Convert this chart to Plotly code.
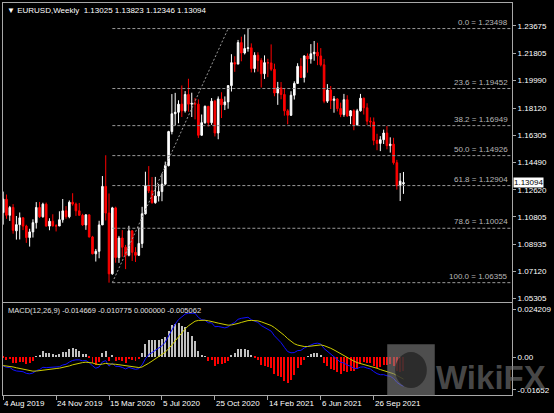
import pandas as pd
import plotly.graph_objects as go
from plotly.subplots import make_subplots

first_week = '2019-08-04'

opens = [1.1108, 1.1198, 1.1090, 1.1143, 1.0985, 1.1027, 1.1073, 1.1017, 1.0940, 1.0978,
         1.1040, 1.1143, 1.1080, 1.1165, 1.1017, 1.1050, 1.1019, 1.1018, 1.1060, 1.1120,
         1.1080, 1.1178, 1.1166, 1.1120, 1.1090, 1.1025, 1.1093, 1.0944, 1.0830, 1.0847,
         1.1025, 1.1285, 1.1105, 1.0695, 1.1140, 1.0805, 1.0937, 1.0875, 1.0820, 1.0985,
         1.0840, 1.0820, 1.0900, 1.1100, 1.1290, 1.1255, 1.1175, 1.1220, 1.1250, 1.1300,
         1.1425, 1.1655, 1.1775, 1.1785, 1.1840, 1.1795, 1.1905, 1.1840, 1.1845, 1.1840,
         1.1630, 1.1715, 1.1825, 1.1715, 1.1860, 1.1645, 1.1875, 1.1835, 1.1855, 1.1965,
         1.2120, 1.2110, 1.2255, 1.2185, 1.2215, 1.2220, 1.2080, 1.2170, 1.2135, 1.2045,
         1.2120, 1.2118, 1.2075, 1.1915, 1.1950, 1.1905, 1.1795, 1.1765, 1.1900, 1.1980,
         1.2095, 1.2020, 1.2165, 1.2145, 1.2180, 1.2190, 1.2165, 1.2105, 1.1860, 1.1935,
         1.1865, 1.1875, 1.1810, 1.1770, 1.1870, 1.1760, 1.1795, 1.1700, 1.1795, 1.1880,
         1.1815, 1.1725, 1.1720, 1.1595, 1.1575, 1.1600, 1.1645, 1.1560, 1.1570, 1.1445,
         1.1290, 1.13025]
highs = [1.1250, 1.1230, 1.1153, 1.1165, 1.1085, 1.1109, 1.1076, 1.1026, 1.0999, 1.1063,
         1.1179, 1.1180, 1.1175, 1.1176, 1.1070, 1.1097, 1.1030, 1.1117, 1.1200, 1.1152,
         1.1190, 1.1239, 1.1176, 1.1173, 1.1100, 1.1096, 1.1095, 1.0951, 1.0863, 1.1053,
         1.1355, 1.1495, 1.1237, 1.1147, 1.1148, 1.0951, 1.0990, 1.0890, 1.1019, 1.0990,
         1.0875, 1.1008, 1.1147, 1.1384, 1.1422, 1.1348, 1.1349, 1.1302, 1.1372, 1.1452,
         1.1660, 1.1908, 1.1916, 1.1866, 1.1966, 1.1928, 1.2011, 1.1917, 1.1882, 1.1872,
         1.1770, 1.1831, 1.1828, 1.1881, 1.1869, 1.1892, 1.1920, 1.1892, 1.1964, 1.2177,
         1.2163, 1.2273, 1.2295, 1.2310, 1.23498, 1.2250, 1.2190, 1.2190, 1.2150, 1.2169,
         1.2146, 1.2243, 1.2113, 1.1990, 1.1989, 1.1945, 1.1806, 1.1927, 1.1994, 1.2116,
         1.2150, 1.2170, 1.2182, 1.2245, 1.2266, 1.2254, 1.2218, 1.2145, 1.1975, 1.1962,
         1.1895, 1.1880, 1.1850, 1.1909, 1.1900, 1.1800, 1.1805, 1.1808, 1.1909, 1.1884,
         1.1846, 1.1751, 1.1750, 1.1640, 1.1624, 1.1668, 1.1692, 1.1616, 1.1613, 1.1464,
         1.1375, 1.13823]
lows = [1.1027, 1.1066, 1.1052, 1.0966, 1.0926, 1.0927, 1.0990, 1.0904, 1.0879, 1.0940,
        1.1000, 1.1072, 1.1074, 1.1015, 1.0989, 1.1014, 1.0981, 1.1017, 1.1040, 1.1066,
        1.1070, 1.1155, 1.1086, 1.1087, 1.1019, 1.0992, 1.0940, 1.0827, 1.0778, 1.0800,
        1.1025, 1.1055, 1.06355, 1.0689, 1.0770, 1.0769, 1.0810, 1.0727, 1.0813, 1.0782,
        1.0775, 1.0815, 1.0870, 1.1095, 1.1240, 1.1168, 1.1168, 1.1183, 1.1185, 1.1297,
        1.1420, 1.1636, 1.1696, 1.1711, 1.1753, 1.1783, 1.1789, 1.1753, 1.1737, 1.1612,
        1.1627, 1.1707, 1.1689, 1.1700, 1.1622, 1.1603, 1.1746, 1.1800, 1.1809, 1.1925,
        1.2058, 1.2110, 1.2129, 1.2175, 1.2194, 1.2054, 1.2054, 1.2059, 1.1952, 1.2010,
        1.2022, 1.2063, 1.1893, 1.1835, 1.1873, 1.1762, 1.1704, 1.1760, 1.1871, 1.1977,
        1.2018, 1.1986, 1.2052, 1.2113, 1.2133, 1.2103, 1.2094, 1.1846, 1.1848, 1.1807,
        1.1782, 1.1791, 1.1752, 1.1755, 1.1755, 1.1705, 1.1664, 1.1695, 1.1790, 1.1770,
        1.1700, 1.1684, 1.1563, 1.1529, 1.1523, 1.1571, 1.1535, 1.1513, 1.1432, 1.1263,
        1.1186, 1.12346]
closes = [1.1199, 1.1090, 1.1143, 1.0989, 1.1027, 1.1073, 1.1017, 1.0940, 1.0978, 1.1040,
          1.1143, 1.1080, 1.1165, 1.1017, 1.1050, 1.1019, 1.1018, 1.1060, 1.1120, 1.1080,
          1.1178, 1.1166, 1.1120, 1.1090, 1.1025, 1.1093, 1.0944, 1.0830, 1.0847, 1.1025,
          1.1285, 1.1105, 1.0695, 1.1140, 1.0805, 1.0937, 1.0875, 1.0820, 1.0985, 1.0840,
          1.0820, 1.0900, 1.1100, 1.1290, 1.1255, 1.1175, 1.1220, 1.1250, 1.1300, 1.1425,
          1.1655, 1.1775, 1.1785, 1.1840, 1.1795, 1.1905, 1.1840, 1.1845, 1.1840, 1.1630,
          1.1715, 1.1825, 1.1715, 1.1860, 1.1645, 1.1875, 1.1835, 1.1855, 1.1965, 1.2120,
          1.2110, 1.2255, 1.2185, 1.2215, 1.2220, 1.2080, 1.2170, 1.2135, 1.2045, 1.2120,
          1.2118, 1.2075, 1.1915, 1.1950, 1.1905, 1.1795, 1.1765, 1.1900, 1.1980, 1.2095,
          1.2020, 1.2165, 1.2145, 1.2180, 1.2190, 1.2165, 1.2105, 1.1860, 1.1935, 1.1865,
          1.1875, 1.1810, 1.1770, 1.1870, 1.1760, 1.1795, 1.1700, 1.1795, 1.1880, 1.1815,
          1.1725, 1.1720, 1.1595, 1.1575, 1.1600, 1.1645, 1.1560, 1.1570, 1.1445, 1.1290,
          1.1320, 1.13094]

# weekly closes before the first visible bar (Jul 2018 - Jul 2019), only to warm up the MACD
warmup_closes = [1.1745, 1.1685, 1.1720, 1.1655, 1.1565, 1.1410, 1.1440, 1.1620, 1.1605, 1.1550,
                 1.1625, 1.1745, 1.1605, 1.1525, 1.1560, 1.1510, 1.1400, 1.1385, 1.1335, 1.1415,
                 1.1335, 1.1315, 1.1385, 1.1305, 1.1370, 1.1440, 1.1395, 1.1470, 1.1365, 1.1410,
                 1.1455, 1.1325, 1.1295, 1.1335, 1.1365, 1.1235, 1.1325, 1.1300, 1.1220, 1.1215,
                 1.1295, 1.1245, 1.1150, 1.1200, 1.1235, 1.1160, 1.1205, 1.1170, 1.1335, 1.1210,
                 1.1370, 1.1370, 1.1225, 1.1270, 1.1220, 1.1125, 1.1108]

fib_names = ['0.0', '23.6', '38.2', '50.0', '61.8', '78.6', '100.0']
fib_levels = [1.23498, 1.19452, 1.16949, 1.14926, 1.12904, 1.10024, 1.06355]
fib_low_date = '2020-03-22'
fib_high_date = '2020-11-22'

price_ticks = [1.23675, 1.21805, 1.19990, 1.18120, 1.16305, 1.14490,
               1.12620, 1.10805, 1.08935, 1.07120, 1.05305]
macd_ticks = [0.024209, 0.0, -0.01652]
macd_tick_text = ['0.024209', '0.00', '-0.01652']
date_ticks = ['2019-08-04', '2019-11-24', '2020-03-15', '2020-07-05',
              '2020-10-25', '2021-02-14', '2021-06-06', '2021-09-26']
date_text = ['4 Aug 2019', '24 Nov 2019', '15 Mar 2020', '5 Jul 2020',
             '25 Oct 2020', '14 Feb 2021', '6 Jun 2021', '26 Sep 2021']

header = '▼ EURUSD,Weekly  1.13025 1.13823 1.12346 1.13094'
macd_header = 'MACD(12,26,9) -0.014669 -0.010775 0.000000 -0.005062'
last_price = 1.13094

FONT = 'Liberation Sans'
BORDER = '#a8a8a8'

weeks = pd.date_range(first_week, periods=len(closes), freq='7D')
week = pd.Timedelta(weeks=1)
x_start = pd.Timestamp(first_week) - 0.05 * week
x_end = pd.Timestamp(first_week) + 153.8 * week

s = pd.Series(warmup_closes + closes)
macd_all = s.ewm(span=12, adjust=False).mean() - s.ewm(span=26, adjust=False).mean()
signal_all = macd_all.ewm(span=9, adjust=False).mean()
macd = macd_all.values[len(warmup_closes):]
signal = signal_all.values[len(warmup_closes):]
# the terminal's histogram is drawn as twice the gap between the two lines
hist = 2 * (macd - signal)

fig = make_subplots(rows=2, cols=1, shared_xaxes=True, vertical_spacing=0)

fig.add_trace(go.Candlestick(
    x=weeks, open=opens, high=highs, low=lows, close=closes,
    increasing=dict(line=dict(color='#ffffff', width=1), fillcolor='#ffffff'),
    decreasing=dict(line=dict(color='#ff0000', width=1), fillcolor='#ff0000'),
    whiskerwidth=0, showlegend=False,
), row=1, col=1)

fig.add_trace(go.Bar(
    x=weeks, y=hist,
    marker_color=['#c0c0c0' if v >= 0 else '#ff0000' for v in hist],
    marker_line_width=0,
    width=0.3 * week.total_seconds() * 1000,
    showlegend=False,
), row=2, col=1)
fig.add_trace(go.Scatter(x=weeks, y=macd, mode='lines',
                         line=dict(color='#1010ff', width=1), showlegend=False), row=2, col=1)
fig.add_trace(go.Scatter(x=weeks, y=signal, mode='lines',
                         line=dict(color='#cccc00', width=1), showlegend=False), row=2, col=1)

# fibonacci retracement
for name, level in zip(fib_names, fib_levels):
    fig.add_shape(type='line', xref='x', yref='y', x0=fib_low_date, x1=x_end,
                  y0=level, y1=level, line=dict(color='#9a9a9a', width=1, dash='3px,2px'))
    fig.add_annotation(xref='paper', x=1, xanchor='right', xshift=-2,
                       yref='y', y=level, yanchor='bottom', yshift=0,
                       text=f'{name} = {level:.5f}', showarrow=False,
                       font=dict(family=FONT, size=8, color='#b8b8b8'))
fig.add_shape(type='line', xref='x', yref='y', x0=fib_low_date, y0=fib_levels[-1],
              x1=fib_high_date, y1=fib_levels[0],
              line=dict(color='#9a9a9a', width=1, dash='2px,2px'))

# headers
fig.add_annotation(xref='paper', x=0, xanchor='left', xshift=2,
                   yref='paper', y=1, yanchor='top', yshift=-1,
                   text=header, showarrow=False,
                   font=dict(family=FONT, size=8, color='#ffffff'))
fig.add_annotation(xref='paper', x=0, xanchor='left', xshift=3,
                   yref='paper', y=0.2341, yanchor='top', yshift=-1,
                   text=macd_header, showarrow=False,
                   font=dict(family=FONT, size=7.5, color='#e0e0e0'))

# current price tag
fig.add_annotation(xref='paper', x=1, xanchor='left', xshift=1,
                   yref='y', y=last_price, text=f'{last_price:.5f}', showarrow=False,
                   bgcolor='#ffffff', borderpad=0,
                   font=dict(family=FONT, size=8, color='#000000'))

# date labels start at the tick, like the terminal
for d, t in zip(date_ticks, date_text):
    fig.add_annotation(xref='x2', x=d, xanchor='left', xshift=-1,
                       yref='paper', y=0, yanchor='top', yshift=-2,
                       text=t, showarrow=False,
                       font=dict(family=FONT, size=8, color='#ffffff'))

# watermark
fig.add_shape(type='rect', xref='paper', yref='paper',
              x0=(390 - 2) / 514, x1=(438 - 2) / 514,
              y0=(395 - 396) / 393, y1=(395 - 344) / 393,
              fillcolor='rgba(130,130,130,0.6)', line_width=0, layer='above')
fig.add_shape(type='circle', xref='paper', yref='paper',
              x0=(398 - 2) / 514, x1=(430 - 2) / 514,
              y0=(395 - 388) / 393, y1=(395 - 352) / 393,
              fillcolor='rgba(30,30,30,0.7)', line_width=0, layer='above')
fig.add_annotation(xref='paper', x=(437 - 2) / 514, xanchor='left',
                   yref='paper', y=(395 - 377) / 393, yanchor='middle',
                   text='<b>WikiFX</b>', showarrow=False,
                   font=dict(family=FONT, size=33, color='rgba(120,120,120,0.6)'))

axis_common = dict(showline=True, mirror=True, linecolor=BORDER, linewidth=1,
                   showgrid=False, zeroline=False)

fig.update_xaxes(axis_common, type='date', range=[x_start, x_end])
fig.update_xaxes(showticklabels=False, ticks='', rangeslider_visible=False, row=1, col=1)
fig.update_xaxes(tickmode='array', tickvals=date_ticks, ticktext=[''] * len(date_ticks),
                 ticks='outside', ticklen=4, tickcolor=BORDER, row=2, col=1)

fig.update_layout(
    width=554, height=413,
    margin=dict(l=2, r=38, t=2, b=18),
    paper_bgcolor='#000000', plot_bgcolor='#000000',
    font=dict(family=FONT, size=8, color='#ffffff'),
    bargap=0,
    yaxis=dict(axis_common, domain=[0.2366, 1], side='right',
               range=[1.05033, 1.25223], tickmode='array', tickvals=price_ticks,
               ticktext=[f'{v:.5f}' for v in price_ticks],
               ticks='outside', ticklen=3, tickcolor=BORDER,
               tickfont=dict(family=FONT, size=8, color='#ffffff')),
    yaxis2=dict(axis_common, domain=[0, 0.2341], side='right',
                range=[-0.019049, 0.027227], tickmode='array', tickvals=macd_ticks,
                ticktext=macd_tick_text, ticks='outside', ticklen=3, tickcolor=BORDER,
                tickfont=dict(family=FONT, size=8, color='#ffffff')),
)

# the page's default body margin would push the chart off the window
fig.write_html('out.html', config={'displayModeBar': False},
               post_script="document.body.style.margin='0';"
               "document.body.style.background='#000';")
